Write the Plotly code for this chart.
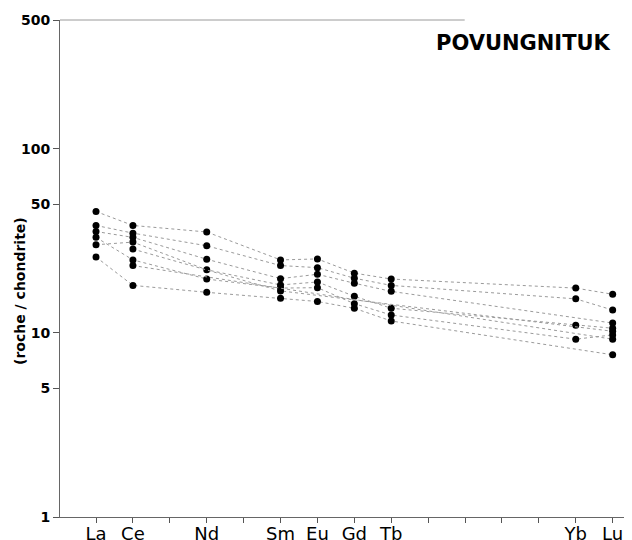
import plotly.graph_objects as go

# REE positions (all 15 lanthanides, Pm included) and labels
elements = ["La", "Ce", "Pr", "Nd", "Pm", "Sm", "Eu", "Gd", "Tb", "Dy", "Ho", "Er", "Tm", "Yb", "Lu"]
tick_labels = ["La", "Ce", "", "Nd", "", "Sm", "Eu", "Gd", "Tb", "", "", "", "", "Yb", "Lu"]

# Chondrite-normalised values (roche / chondrite), None = not analysed
s1 = {"La": 45.6, "Ce": 38.3, "Nd": 35.3, "Sm": 24.9, "Eu": 25.2, "Gd": 21.1, "Tb": 19.6, "Yb": 17.5, "Lu": 16.2}
s2 = {"La": 38.3, "Ce": 34.8, "Nd": 29.7, "Sm": 23.2, "Eu": 22.6, "Gd": 19.8, "Tb": 18.1, "Yb": 15.3, "Lu": 13.3}
s3 = {"La": 35.5, "Ce": 33.0, "Nd": 25.1, "Sm": 19.7, "Eu": 20.8, "Gd": 18.6, "Tb": 16.8, "Yb": None, "Lu": 11.3}
s4 = {"La": 30.1, "Ce": 31.1, "Nd": 22.0, "Sm": 18.2, "Eu": 18.9, "Gd": 15.8, "Tb": 13.6, "Yb": 11.0, "Lu": 10.6}
s5 = {"La": 33.0, "Ce": 24.9, "Nd": 19.6, "Sm": 17.5, "Eu": 17.6, "Gd": 14.4, "Tb": 12.5, "Yb": 9.24, "Lu": 9.75}
s6 = {"La": 25.8, "Ce": 18.1, "Nd": 16.6, "Sm": 15.4, "Eu": 14.8, "Gd": 13.6, "Tb": 11.6, "Yb": None, "Lu": 7.6}
s7 = {"La": None, "Ce": 28.5, "Nd": None, "Sm": 16.9, "Eu": None, "Gd": None, "Tb": None, "Yb": None, "Lu": 10.2}
s8 = {"La": None, "Ce": 23.2, "Nd": None, "Sm": None, "Eu": None, "Gd": None, "Tb": None, "Yb": None, "Lu": 9.24}
samples = [s1, s2, s3, s4, s5, s6, s7, s8]

y_ticks = [1, 5, 10, 50, 100, 500]

fig = go.Figure()
for s in samples:
    xs = [elements.index(k) for k, v in s.items() if v is not None]
    ys = [v for v in s.values() if v is not None]
    fig.add_trace(go.Scatter(
        x=xs, y=ys, mode="lines+markers",
        line=dict(color="#9a9a9a", width=1, dash="dot"),
        marker=dict(color="black", size=7),
        showlegend=False, hoverinfo="skip",
    ))

font_family = "DejaVu Sans, Liberation Sans, Arial, sans-serif"

# the page body has an 8px margin, so the figure is 8px smaller than the window
fig.update_layout(
    width=624, height=532,
    margin=dict(l=52, r=2, t=12, b=23),
    paper_bgcolor="white", plot_bgcolor="white",
    font=dict(family=font_family, color="black"),
    xaxis=dict(
        range=[-0.976, 14.47],
        tickmode="array",
        tickvals=list(range(len(elements))),
        ticktext=tick_labels,
        ticks="outside", ticklen=5, tickcolor="#555", tickwidth=1,
        ticklabelstandoff=-5,
        showline=True, linecolor="#666", linewidth=1,
        showgrid=False, zeroline=False,
        tickfont=dict(size=18, color="black"),
        automargin=False,
    ),
    yaxis=dict(
        type="log",
        range=[0, 2.69897],
        tickmode="array",
        tickvals=y_ticks,
        ticktext=["<b>%d</b>" % v for v in y_ticks],
        ticks="outside", ticklen=6, tickcolor="#555", tickwidth=1,
        showline=True, linecolor="#666", linewidth=1,
        showgrid=False, zeroline=False,
        tickfont=dict(size=14, color="black"),
        automargin=False,
    ),
    shapes=[dict(type="line", xref="paper", yref="paper", x0=0, x1=0.71, y0=1, y1=1,
                 line=dict(color="#9a9a9a", width=1))],
    annotations=[
        dict(text="<b>POVUNGNITUK</b>", xref="paper", yref="paper", x=0.970, y=0.954,
             xanchor="right", yanchor="middle", showarrow=False,
             font=dict(size=21, color="black", family=font_family)),
        dict(text="<b>(roche / chondrite)</b>", xref="paper", yref="paper", x=-0.070, y=0.455,
             xanchor="center", yanchor="middle", textangle=-90, showarrow=False,
             font=dict(size=14, color="black", family=font_family)),
    ],
)

fig.write_html("out.html")
